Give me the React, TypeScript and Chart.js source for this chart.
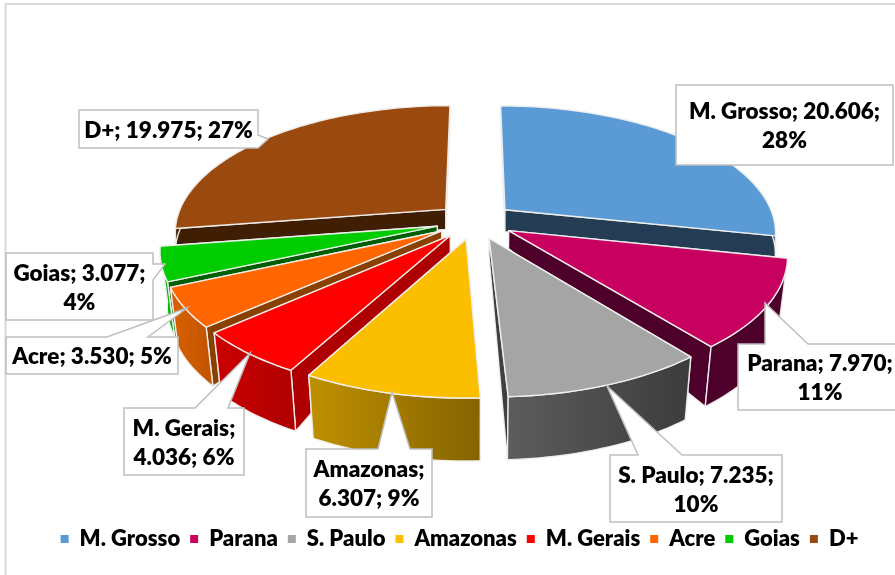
import React, { useEffect, useRef } from "react";
import { Chart, registerables } from "chart.js";

Chart.register(...registerables);

const categories = ["M. Grosso", "Parana", "S. Paulo", "Amazonas", "M. Gerais", "Acre", "Goias", "D+"];
const values = [20.606, 7.97, 7.235, 6.307, 4.036, 3.53, 3.077, 19.975];
const topColors = ["#5B9BD5", "#C80060", "#A5A5A5", "#FCBF00", "#FF0000", "#FF6600", "#00CC00", "#9A4A0E"];
const radialWallColors = ["#243D54", "#4D0029", "#404040", "#7F6000", "#AE0000", "#8A4000", "#005E00", "#3F1E03"];
const rimGradients = [
  ["#243D54", "#243D54"],
  ["#4D0029", "#4D0029"],
  ["#5C5C5C", "#3C3C3C"],
  ["#BF9000", "#856400"],
  ["#CC0000", "#B00000"],
  ["#D96200", "#C45500"],
  ["#00B400", "#00B400"],
  ["#3F1E03", "#3F1E03"],
];
const apexDepths = [22, 18, 18, 18, 18, 12, 8, 20];
const rimDepths = [22, 60, 63, 63, 61, 59, 55, 20];
const paintOrder = [7, 0, 6, 1, 5, 2, 4, 3];

const boxes = [
  { x: 676, y: 85, w: 217, h: 80 },
  { x: 738, y: 344, w: 164, h: 66, side: "top", tip: [765, 303], base: [[765, 344], [808, 344]] },
  { x: 610, y: 455, w: 172, h: 67, side: "top", tip: [607, 386], base: [[638, 455], [682, 455]] },
  { x: 306, y: 449, w: 126, h: 68, side: "top", tip: [392, 392], base: [[378, 449], [410, 449]] },
  { x: 124, y: 408, w: 120, h: 67, side: "top", tip: [250, 353], base: [[195, 408], [228, 408]] },
  { x: 6, y: 337, w: 172, h: 37, side: "top", tip: [187, 308], base: [[107, 337], [148, 337]] },
  { x: 6, y: 253, w: 147, h: 67, side: "right", tip: [165, 264], base: [[153, 264], [153, 280]] },
  { x: 79, y: 110, w: 179, h: 38, side: "right", tip: [268, 139], base: [[258, 135], [258, 148]] },
];

const FONT = "Lato, Carlito, sans-serif";
const view = { cx: 475, cy: 221, a: 270, b: 125, k: 0.17, explode: 0.145 };

function project(x: number, y: number) {
  const w = 1 + view.k * y;
  return [view.cx + (view.a * x) / w, view.cy - (view.b * y) / w];
}

const pie3dPlugin = {
  id: "pie3d",
  beforeDraw(chart: any) {
    const { ctx, width, height } = chart;
    ctx.save();
    ctx.fillStyle = "#fff";
    ctx.fillRect(0, 0, width, height);
    ctx.strokeStyle = "#D9D9D9";
    ctx.lineWidth = 2;
    ctx.beginPath();
    ctx.moveTo(5.5, height);
    ctx.lineTo(5.5, 4);
    ctx.lineTo(width, 4);
    ctx.stroke();
    ctx.restore();
  },
  beforeDatasetsDraw(chart: any) {
    const { ctx } = chart;
    const arcs = chart.getDatasetMeta(0).data;
    const poly = (pts: number[][], fill: any) => {
      ctx.beginPath();
      pts.forEach((p, i) => (i ? ctx.lineTo(p[0], p[1]) : ctx.moveTo(p[0], p[1])));
      ctx.closePath();
      ctx.fillStyle = fill;
      ctx.fill();
      ctx.strokeStyle = "rgba(240,240,240,0.95)";
      ctx.lineWidth = 1.4;
      ctx.lineJoin = "round";
      ctx.stroke();
    };
    ctx.save();
    paintOrder.forEach((i) => {
      const arc = arcs[i];
      const s = arc.startAngle + Math.PI / 2;
      const e = arc.endAngle + Math.PI / 2;
      const mid = (s + e) / 2;
      const ox = view.explode * Math.sin(mid);
      const oy = view.explode * Math.cos(mid);
      const top = (t: number, r: number) => project(ox + r * Math.sin(t), oy + r * Math.cos(t));
      const bottom = (t: number, r: number) => {
        const p = top(t, r);
        const d = apexDepths[i] + (rimDepths[i] - apexDepths[i]) * r;
        return [p[0] - (p[0] - 478) * 0.025 * (d / 60) * (rimDepths[i] > 30 ? 1 : 0), p[1] + d];
      };
      const steps = Math.max(6, Math.ceil((e - s) * 40));
      const angles: number[] = [];
      for (let j = 0; j <= steps; j++) angles.push(s + ((e - s) * j) / steps);
      const rimTop = angles.map((t) => top(t, 1));
      const rimBottom = angles.map((t) => bottom(t, 1));
      const apex = top(0, 0);
      const apexB = bottom(0, 0);
      // radial walls: the wall that faces the viewer is painted last
      const order = mid < Math.PI ? [s, e] : [e, s];
      order.forEach((t) => poly([apex, top(t, 1), bottom(t, 1), apexB], radialWallColors[i]));
      // rim wall
      const xs = rimTop.map((p) => p[0]);
      const grad = ctx.createLinearGradient(Math.min(...xs), 0, Math.max(...xs), 0);
      grad.addColorStop(0, rimGradients[i][0]);
      grad.addColorStop(1, rimGradients[i][1]);
      poly([...rimTop, ...rimBottom.slice().reverse()], grad);
      // top face
      poly([apex, ...rimTop], topColors[i]);
    });
    ctx.restore();
    return false;
  },
  afterDraw(chart: any) {
    const { ctx } = chart;
    const total = values.reduce((a, b) => a + b, 0);
    ctx.save();
    ctx.font = `800 22.5px ${FONT}`;
    ctx.textAlign = "center";
    ctx.textBaseline = "middle";
    boxes.forEach((b: any, i) => {
      const l = b.x, t = b.y, r = b.x + b.w, m = b.y + b.h;
      let pts: number[][] = [[l, t], [r, t], [r, m], [l, m]];
      if (b.side === "top") pts = [[l, t], b.base[0], b.tip, b.base[1], [r, t], [r, m], [l, m]];
      if (b.side === "right") pts = [[l, t], [r, t], b.base[0], b.tip, b.base[1], [r, m], [l, m]];
      ctx.beginPath();
      pts.forEach((p, j) => (j ? ctx.lineTo(p[0], p[1]) : ctx.moveTo(p[0], p[1])));
      ctx.closePath();
      ctx.fillStyle = "#fff";
      ctx.fill();
      ctx.strokeStyle = "#BFBFBF";
      ctx.lineWidth = 1.5;
      ctx.stroke();
      const text = `${categories[i]}; ${values[i].toFixed(3)}; ${Math.round((values[i] / total) * 100)}%`;
      const lines: string[] = [];
      let cur = "";
      text.split(" ").forEach((word) => {
        const next = cur ? `${cur} ${word}` : word;
        if (cur && ctx.measureText(next).width > b.w - 8) {
          lines.push(cur);
          cur = word;
        } else cur = next;
      });
      lines.push(cur);
      ctx.fillStyle = "#000";
      const lh = 29;
      lines.forEach((ln, j) => {
        ctx.fillText(ln, l + b.w / 2, t + b.h / 2 + (j - (lines.length - 1) / 2) * lh + 1.5);
      });
    });
    ctx.restore();
  },
};

export default function App() {
  const ref = useRef<HTMLCanvasElement>(null);
  useEffect(() => {
    document.body.style.margin = "0";
    const chart = new Chart(ref.current as HTMLCanvasElement, {
      type: "pie",
      data: {
        labels: categories,
        datasets: [{ data: values, backgroundColor: topColors, borderWidth: 0 }],
      },
      options: {
        animation: false,
        responsive: false,
        layout: { padding: { bottom: 15, left: 24 } },
        plugins: {
          tooltip: { enabled: false },
          legend: {
            position: "bottom",
            labels: {
              boxWidth: 8,
              boxHeight: 8,
              padding: 10,
              color: "#000",
              font: { family: FONT, size: 22, weight: 800 },
            },
          },
        },
      },
      plugins: [pie3dPlugin],
    } as any);
    return () => chart.destroy();
  }, []);
  return <canvas ref={ref} width={895} height={575} style={{ display: "block" }} />;
}
